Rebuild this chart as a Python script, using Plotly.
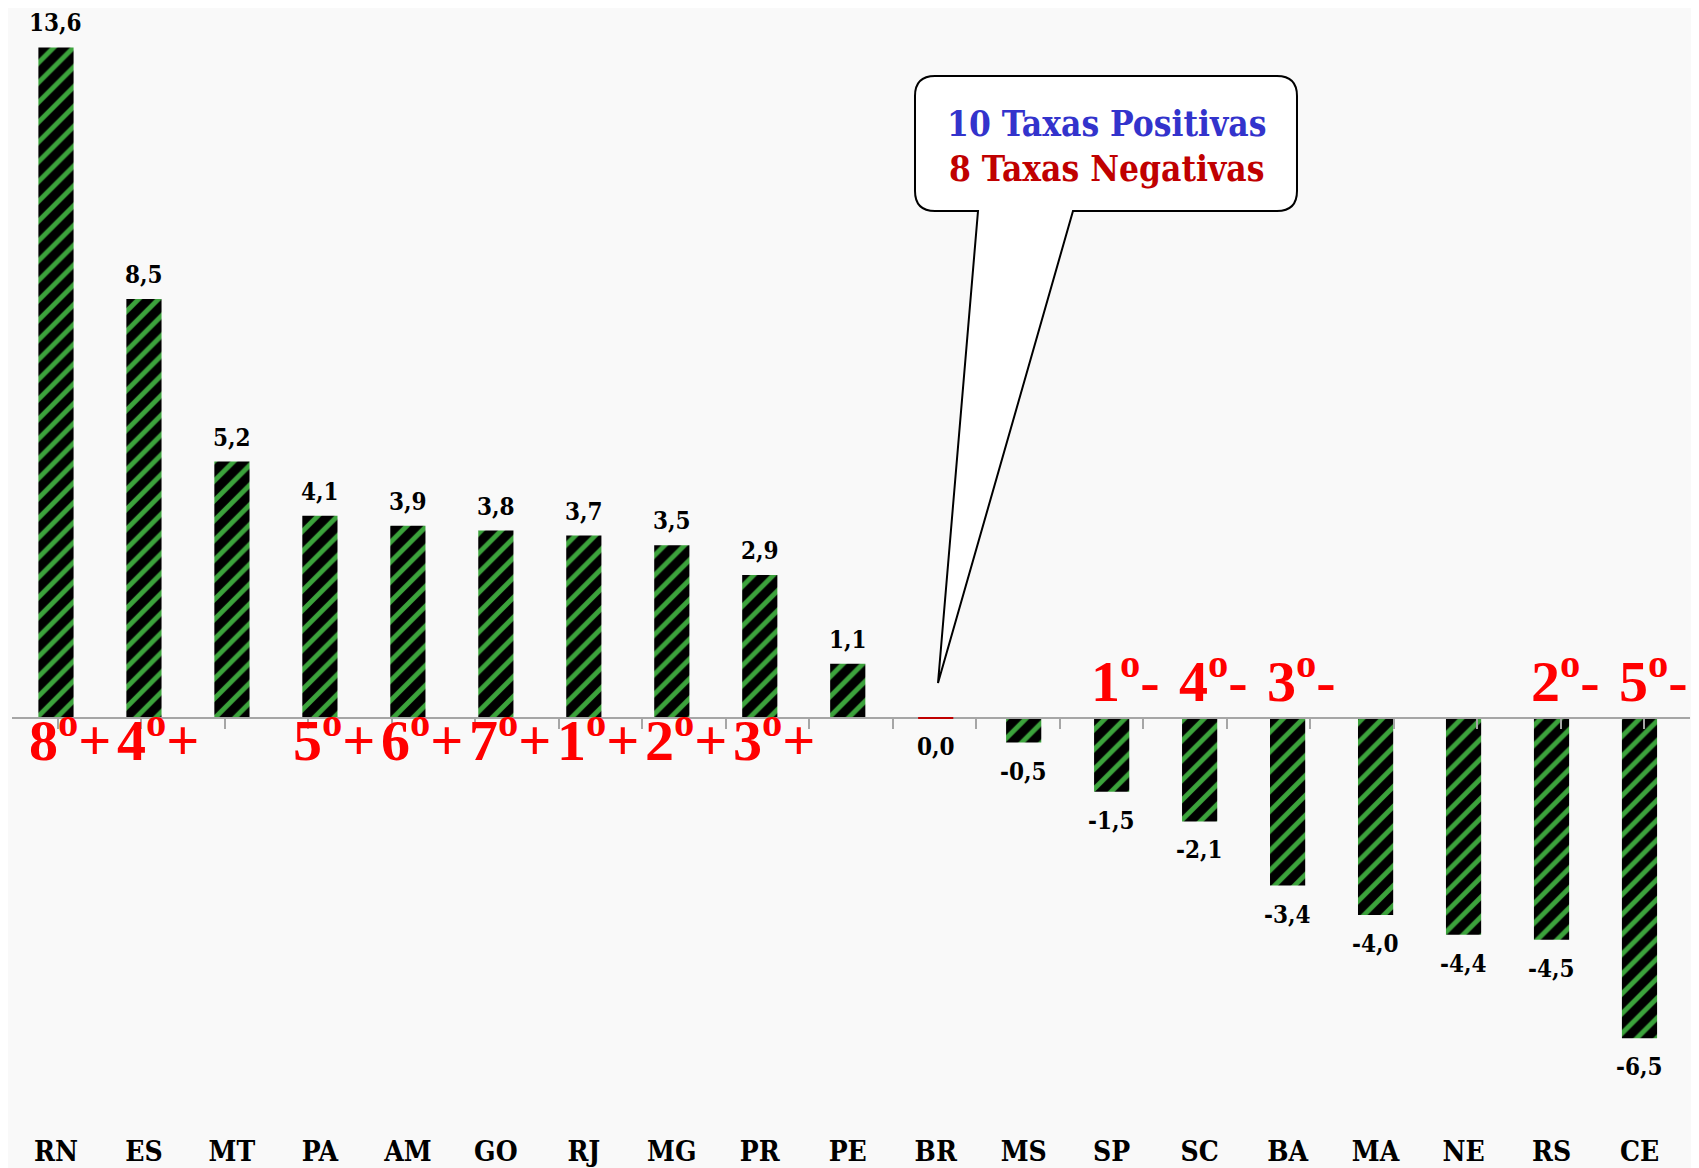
import plotly.graph_objects as go

# data
estados = ["RN", "ES", "MT", "PA", "AM", "GO", "RJ", "MG", "PR", "PE",
           "BR", "MS", "SP", "SC", "BA", "MA", "NE", "RS", "CE"]
taxas = [13.6, 8.5, 5.2, 4.1, 3.9, 3.8, 3.7, 3.5, 2.9, 1.1,
         0.0, -0.5, -1.5, -2.1, -3.4, -4.0, -4.4, -4.5, -6.5]
rankings = ["8º+", "4º+", "", "5º+", "6º+", "7º+", "1º+", "2º+", "3º+", "",
            "", "", "1º-", "4º-", "3º-", "", "", "2º-", "5º-"]
balao = ["10 Taxas Positivas", "8 Taxas Negativas"]

# page body has an 8px margin, so the figure is drawn 8px in from the corner
OFF = 8
W, H = 1699 - OFF, 1168 - OFF
L, R, T, B = 4, 9, 2, 36
Y_RANGE = [-8.4, 14.36]
BAR_W = 0.4
VERDE = "#3ca33c"
SERIF = "DejaVu Serif Condensed, DejaVu Serif, serif"
TIMES = "Liberation Serif, Times New Roman, serif"
BG = "#f9f9f9"


def to_paper(px, py):
    # screen pixel -> paper fraction
    px, py = px - OFF, py - OFF
    return (px - L) / (W - L - R), (H - B - py) / (H - T - B)


def fmt(v):
    return f"{v:.1f}".replace(".", ",")


fig = go.Figure()
fig.add_trace(go.Bar(
    x=estados, y=taxas, width=BAR_W,
    marker=dict(color="black",
                pattern=dict(shape="/", fgcolor=VERDE, bgcolor="black",
                             fgopacity=1, size=14, solidity=0.35),
                line=dict(width=0)),
    hoverinfo="skip", showlegend=False,
))
# invisible trace carrying the zero axis with boundary ticks
fig.add_trace(go.Scatter(x=estados, y=[0] * len(estados), xaxis="x2",
                         mode="markers", marker=dict(opacity=0),
                         hoverinfo="skip", showlegend=False))

shapes = []
# zero-valued bars are shown as a thin dark red line
for i, v in enumerate(taxas):
    if v == 0:
        shapes.append(dict(type="line", xref="x", yref="y", layer="above",
                           x0=i - BAR_W / 2, x1=i + BAR_W / 2, y0=v, y1=v,
                           line=dict(color="#c00000", width=2)))

annotations = []
for est, v in zip(estados, taxas):
    annotations.append(dict(
        x=est, y=v, text=fmt(v), showarrow=False,
        yanchor="bottom" if v > 0 else "top", yshift=8 if v > 0 else -12,
        font=dict(family=SERIF, size=24, color="black", weight="bold")))

for est, rk in zip(estados, rankings):
    if not rk:
        continue
    num, sinal = rk.split("º")
    annotations.append(dict(
        x=est, y=0, text=f"{num}<sup>o</sup>{sinal}", showarrow=False,
        xanchor="center", xshift=14,
        yanchor="top" if sinal == "+" else "bottom",
        yshift=20 if sinal == "+" else 2,
        font=dict(family=TIMES, size=58, color="#ff0000", weight="bold")))

# speech bubble (screen pixels)
x0, x1, y0, y1, r = 915, 1297, 76, 211, 20
tip = (938, 683)
pts = [("M", (x0 + r, y0)), ("L", (x1 - r, y0)), ("Q", (x1, y0), (x1, y0 + r)),
       ("L", (x1, y1 - r)), ("Q", (x1, y1), (x1 - r, y1)), ("L", (1073, y1)),
       ("L", tip), ("L", (978, y1)), ("L", (x0 + r, y1)),
       ("Q", (x0, y1), (x0, y1 - r)), ("L", (x0, y0 + r)),
       ("Q", (x0, y0), (x0 + r, y0))]
path = ""
for cmd, *ps in pts:
    path += cmd + " ".join("%.5f,%.5f" % to_paper(*p) for p in ps)
path += "Z"
shapes.append(dict(type="path", path=path, xref="paper", yref="paper",
                   fillcolor="white", line=dict(color="black", width=2)))

cx = (x0 + x1) / 2
for texto, cor, py in zip(balao, ["#3333cc", "#c00000"], [123, 168]):
    px_, py_ = to_paper(cx, py)
    annotations.append(dict(x=px_, y=py_, xref="paper", yref="paper",
                            xanchor="center", yanchor="middle",
                            text=texto, showarrow=False,
                            font=dict(family=SERIF, size=35, color=cor,
                                      weight="bold")))

zero_pos = -Y_RANGE[0] / (Y_RANGE[1] - Y_RANGE[0])

fig.update_layout(
    width=W, height=H,
    margin=dict(l=L, r=R, t=T, b=B, autoexpand=False),
    paper_bgcolor=BG, plot_bgcolor=BG,
    xaxis=dict(type="category", categoryorder="array", categoryarray=estados,
               showline=False, ticks="", showgrid=False, zeroline=False,
               automargin=False,
               tickfont=dict(family=SERIF, size=28, color="black",
                             weight="bold")),
    xaxis2=dict(type="category", categoryorder="array", categoryarray=estados,
                overlaying="x", anchor="free", position=zero_pos,
                showline=True, linecolor="#a6a6a6", linewidth=2,
                ticks="outside", tickson="boundaries", ticklen=10,
                tickcolor="#a6a6a6", tickwidth=2, automargin=False,
                showticklabels=False, showgrid=False, zeroline=False),
    yaxis=dict(range=Y_RANGE, visible=False, showgrid=False, zeroline=False,
               automargin=False),
    shapes=shapes,
    annotations=annotations,
)

fig.write_html("out.html")
